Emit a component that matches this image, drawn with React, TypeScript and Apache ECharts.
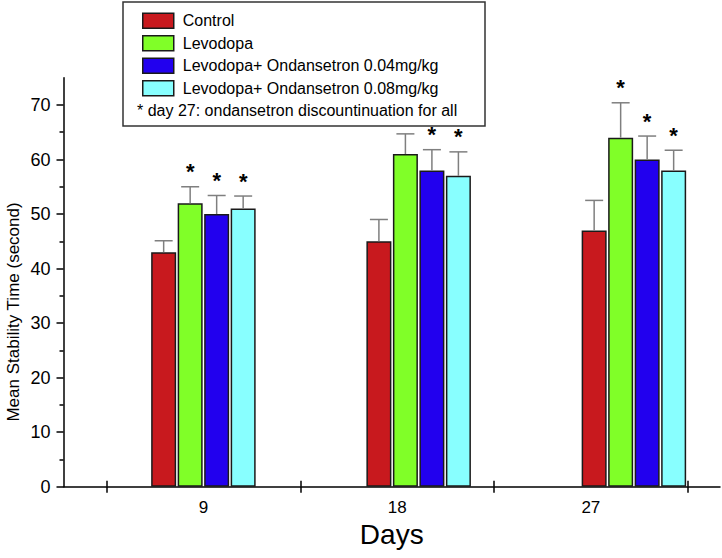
import React, { useEffect, useRef } from "react";
import * as echarts from "echarts";

const seriesNames = [
  "Control",
  "Levodopa",
  "Levodopa+ Ondansetron 0.04mg/kg",
  "Levodopa+ Ondansetron 0.08mg/kg",
];
const barDays = [9, 19, 29];
const dayLabels = [9, 18, 27];
const dayTicks = [4.5, 13.5, 22.5, 31.5];

const controlMean = [43, 45, 47];
const controlErr = [2.1, 4, 5.5];
const levodopaMean = [52, 61, 64];
const levodopaErr = [3, 3.7, 6.4];
const ond004Mean = [50, 58, 60];
const ond004Err = [3.4, 3.8, 4.3];
const ond008Mean = [51, 57, 58];
const ond008Err = [2.3, 4.4, 3.7];

const controlStar = [0, 0, 0];
const levodopaStar = [1, 0, 1];
const ond004Star = [1, 1, 1];
const ond008Star = [1, 1, 1];

const yMajorTicks = [0, 10, 20, 30, 40, 50, 60, 70];
const yMinorTicks = [5, 15, 25, 35, 45, 55, 65];

const noteText = "* day 27: ondansetron discountinuation for all";
const yName = "Mean Stability Time (second)";
const xName = "Days";

const colors = ["#C8191E", "#80FF28", "#2200EE", "#88FFFF"];
const FONT = "'Liberation Sans', Arial, sans-serif";

const means = [controlMean, levodopaMean, ond004Mean, ond008Mean];
const errs = [controlErr, levodopaErr, ond004Err, ond008Err];
const stars = [controlStar, levodopaStar, ond004Star, ond008Star];

const BAR_W = 25;
const BAR_PITCH = 26.5;

export default function App() {
  const ref = useRef<HTMLDivElement>(null);
  useEffect(() => {
    if (!ref.current) return;
    const chart = echarts.init(ref.current, undefined, { renderer: "svg" });

    const barSeries = seriesNames.map((name, i) => ({
      type: "bar",
      name,
      xAxisIndex: 0,
      yAxisIndex: 0,
      barWidth: BAR_W,
      barGap: "6%",
      z: 2,
      itemStyle: { color: colors[i], borderColor: "#1a1a1a", borderWidth: 1.5 },
      data: barDays.map((d, j) => [d, means[i][j]]),
    }));

    const errSeries = seriesNames.map((name, i) => ({
      type: "custom",
      name: name + " error",
      xAxisIndex: 0,
      yAxisIndex: 0,
      z: 3,
      silent: true,
      data: barDays.map((d, j) => [d, means[i][j], errs[i][j], stars[i][j]]),
      renderItem: (params: any, api: any) => {
        const x = api.value(0);
        const m = api.value(1);
        const e = api.value(2);
        const s = api.value(3);
        const base = api.coord([x, m]);
        const tip = api.coord([x, m + e]);
        const cx = base[0] + (i - 1.5) * BAR_PITCH;
        const lineStyle = { stroke: "#7f7f7f", lineWidth: 1.5 };
        const children: any[] = [
          { type: "line", shape: { x1: cx, y1: base[1], x2: cx, y2: tip[1] }, style: lineStyle },
          { type: "line", shape: { x1: cx - 9, y1: tip[1], x2: cx + 9, y2: tip[1] }, style: lineStyle },
        ];
        if (s) {
          children.push({
            type: "text",
            x: cx,
            y: tip[1] - 15,
            style: {
              text: "*",
              fill: "#000",
              font: `bold 22px ${FONT}`,
              textAlign: "center",
              textVerticalAlign: "middle",
            },
          });
        }
        return { type: "group", children };
      },
    }));

    chart.setOption({
      animation: false,
      backgroundColor: "#fff",
      textStyle: { fontFamily: FONT },
      grid: { left: 63.5, top: 77.7, width: 656.5, height: 409, containLabel: false },
      legend: {
        orient: "vertical",
        left: 142,
        top: 12.5,
        padding: 0,
        itemWidth: 31,
        itemHeight: 15,
        itemGap: 6,
        icon: "rect",
        z: 5,
        data: seriesNames,
        itemStyle: { borderColor: "#1a1a1a", borderWidth: 1.5 },
        textStyle: { fontSize: 16, lineHeight: 16, color: "#000", fontFamily: FONT, padding: [0, 0, 0, 4] },
      },
      xAxis: [
        {
          type: "value",
          min: 2.5,
          max: 33,
          name: xName,
          nameLocation: "middle",
          nameGap: 33,
          nameTextStyle: { fontSize: 28, color: "#000", fontFamily: FONT },
          axisLine: { show: true, lineStyle: { color: "#000", width: 1.5 } },
          axisTick: { show: true, customValues: dayTicks, length: 6, inside: false, lineStyle: { color: "#000", width: 1.5 } },
          axisLabel: { show: true, customValues: dayLabels, fontSize: 17, color: "#000", margin: 12, fontFamily: FONT },
          splitLine: { show: false },
        },
        {
          type: "value",
          min: 2.5,
          max: 33,
          position: "bottom",
          axisLine: { show: false },
          axisTick: { show: true, customValues: dayTicks, length: 6, inside: true, lineStyle: { color: "#000", width: 1.5 } },
          axisLabel: { show: false },
          splitLine: { show: false },
        },
      ],
      yAxis: [
        {
          type: "value",
          min: 0,
          max: 75,
          axisLine: { show: true, lineStyle: { color: "#000", width: 1.5 } },
          axisTick: { show: true, customValues: yMajorTicks, length: 7, lineStyle: { color: "#000", width: 1.5 } },
          axisLabel: { show: true, customValues: yMajorTicks, fontSize: 18, color: "#000", margin: 13, fontFamily: FONT },
          splitLine: { show: false },
        },
        {
          type: "value",
          min: 0,
          max: 75,
          position: "left",
          axisLine: { show: false },
          axisTick: { show: true, customValues: yMinorTicks, length: 4, lineStyle: { color: "#000", width: 1.5 } },
          axisLabel: { show: false },
          splitLine: { show: false },
        },
      ],
      graphic: [
        {
          type: "rect",
          z: 1,
          shape: { x: 123, y: 2, width: 362, height: 124 },
          style: { fill: "#fff", stroke: "#333", lineWidth: 1.5 },
        },
        {
          type: "text",
          z: 6,
          x: 137,
          y: 110,
          style: { text: noteText, font: `16px ${FONT}`, fill: "#000", textVerticalAlign: "middle" },
        },
        {
          type: "text",
          z: 6,
          x: 13,
          y: 312,
          rotation: Math.PI / 2,
          style: { text: yName, font: `17px ${FONT}`, fill: "#000", textAlign: "center", textVerticalAlign: "middle" },
        },
      ],
      series: [...barSeries, ...errSeries],
    });
    return () => chart.dispose();
  }, []);
  return <div ref={ref} style={{ width: 722, height: 558, position: "absolute", left: 0, top: 0 }} />;
}
